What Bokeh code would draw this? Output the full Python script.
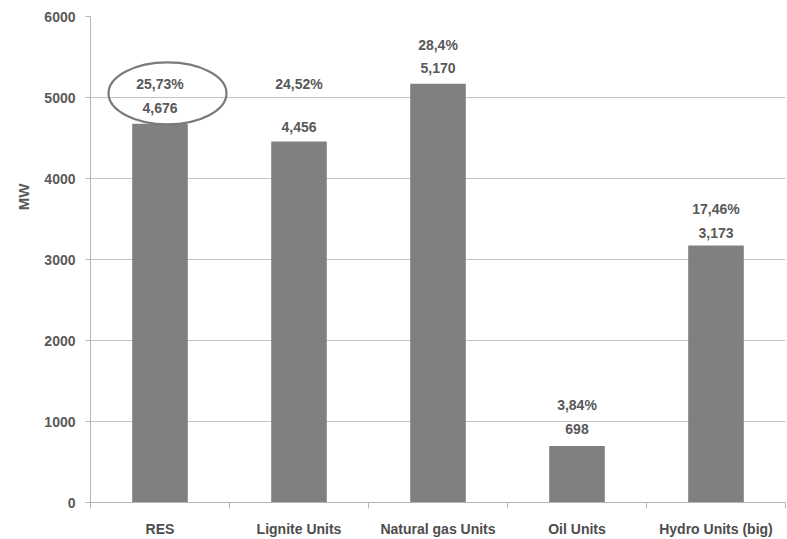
from bokeh.plotting import figure
from bokeh.models import ColumnDataSource, FixedTicker, Range1d, Title
from bokeh.core.properties import value
from bokeh.embed import file_html
from bokeh.resources import INLINE
import numpy as np

# Installed capacity by unit type (MW) and share of the total (%)
categories = ["RES", "Lignite Units", "Natural gas Units", "Oil Units", "Hydro Units (big)"]
capacity_mw = [4676, 4456, 5170, 698, 3173]
share_pct = [25.73, 24.52, 28.4, 3.84, 17.46]
y_ticks = [0, 1000, 2000, 3000, 4000, 5000, 6000]

# Label placement above each bar (screen px, negative = upwards)
value_offsets = [-16, -15, -16, -17, -12]
share_offsets = [-40, -58, -39, -41, -36]

FONT = "Liberation Sans"
TEXT_GREY = "#595959"
BAR_GREY = "#808083"

xs = np.arange(len(categories)) + 0.5
src = ColumnDataSource(dict(
    x=xs,
    top=capacity_mw,
    vlab=[f"{v:,}" for v in capacity_mw],
    plab=[f"{p}".replace(".", ",") + "%" for p in share_pct],
    voff=value_offsets,
    poff=share_offsets,
))

p = figure(width=787, height=539, output_backend="svg", toolbar_location=None,
           x_range=Range1d(0, len(categories)), y_range=Range1d(0, 6000),
           min_border_left=90, min_border_right=2, min_border_top=16, min_border_bottom=36)
p.outline_line_color = None
p.background_fill_color = "white"
p.border_fill_color = "white"

p.vbar(x="x", top="top", width=0.4, bottom=0, source=src,
       fill_color=BAR_GREY, line_color=None)

p.text(x="x", y="top", text="vlab", y_offset="voff", source=src,
       text_align="center", text_baseline="middle",
       text_font=value(FONT), text_font_size="14px", text_font_style="bold",
       text_color=TEXT_GREY)
p.text(x="x", y="top", text="plab", y_offset="poff", source=src,
       text_align="center", text_baseline="middle",
       text_font=value(FONT), text_font_size="14px", text_font_style="bold",
       text_color=TEXT_GREY)

# Highlight ring around the RES figures
p.ellipse(x=[xs[0] + 0.054], y=[capacity_mw[0] + 375], width=118, height=62,
          width_units="screen", height_units="screen",
          fill_color=None, line_color="#7a7a7a", line_width=2.2)

# Y axis title, set beside the upper half of the axis
p.add_layout(Title(text="MW", align="right", offset=167, standoff=20,
                   text_font=FONT, text_font_size="15px", text_font_style="bold",
                   text_color=TEXT_GREY), "left")

# Y axis
p.yaxis.ticker = FixedTicker(ticks=y_ticks)
p.yaxis.major_label_text_font = FONT
p.yaxis.major_label_text_font_size = "14px"
p.yaxis.major_label_text_font_style = "bold"
p.yaxis.major_label_text_color = TEXT_GREY
p.yaxis.major_label_standoff = 10
p.yaxis.major_tick_out = 5
p.yaxis.major_tick_in = 0
p.yaxis.minor_tick_out = 0
p.yaxis.axis_line_color = "#b5b5b5"
p.yaxis.major_tick_line_color = "#b5b5b5"

# X axis: labels at bar centres, ticks at category boundaries
p.xaxis.ticker = FixedTicker(ticks=list(xs), minor_ticks=list(range(len(categories) + 1)))
p.xaxis.major_label_overrides = {float(x): c for x, c in zip(xs, categories)}
p.xaxis.major_label_text_font = FONT
p.xaxis.major_label_text_font_size = "14px"
p.xaxis.major_label_text_font_style = "bold"
p.xaxis.major_label_text_color = "#4d4d4d"
p.xaxis.major_label_standoff = 12
p.xaxis.major_tick_out = 0
p.xaxis.major_tick_in = 0
p.xaxis.minor_tick_out = 6
p.xaxis.minor_tick_in = 0
p.xaxis.minor_tick_line_color = "#b5b5b5"
p.xaxis.axis_line_color = "#b5b5b5"

p.xgrid.grid_line_color = None
p.ygrid.ticker = FixedTicker(ticks=y_ticks)
p.ygrid.grid_line_color = "#c4c4c4"
p.ygrid.grid_line_width = 1.2

open("out.html", "w").write(file_html(p, INLINE))
